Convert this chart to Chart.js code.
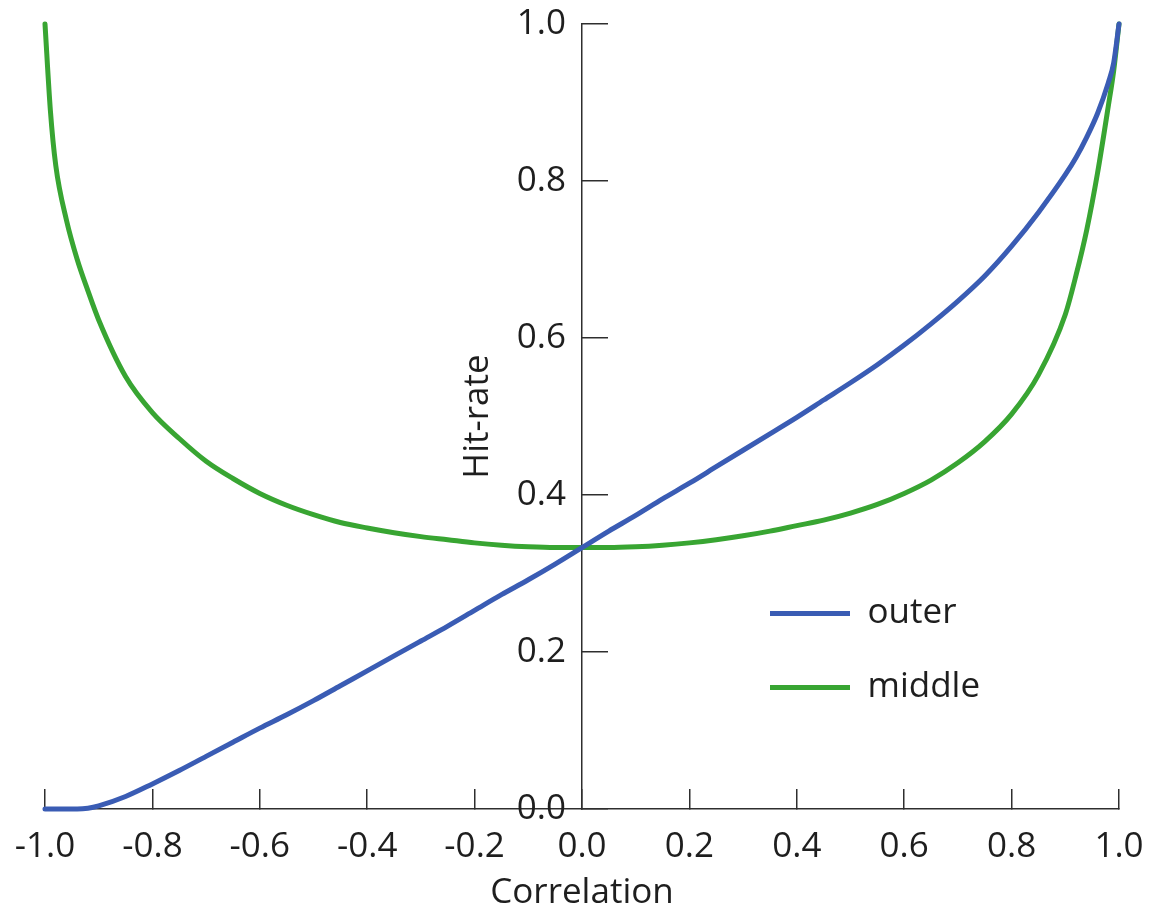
<!DOCTYPE html>
<html>
<head>
<meta charset="utf-8">
<script src="https://cdn.jsdelivr.net/npm/chart.js@4/dist/chart.umd.min.js"></script>
<style>
  html, body { margin: 0; padding: 0; background: #ffffff; }
  #wrap { width: 1149px; height: 914px; position: relative; }
</style>
</head>
<body>
<div id="wrap"><canvas id="c"></canvas></div>
<script>
// ---- data ----
const correlation = [-1.0, -0.99, -0.98, -0.96, -0.94, -0.92, -0.9, -0.85, -0.8, -0.75, -0.7, -0.65, -0.6, -0.55, -0.5, -0.45, -0.4, -0.35, -0.3, -0.25, -0.2, -0.15, -0.1, -0.05, 0.0, 0.05, 0.1, 0.15, 0.2, 0.25, 0.3, 0.35, 0.4, 0.45, 0.5, 0.55, 0.6, 0.65, 0.7, 0.75, 0.8, 0.85, 0.9, 0.92, 0.94, 0.96, 0.98, 0.99, 1.0];
const outerHitRate = [0.0, 0.0, 0.0, 0.0, 0.0, 0.001, 0.004, 0.016, 0.032, 0.049, 0.067, 0.085, 0.103, 0.120, 0.138, 0.157, 0.176, 0.195, 0.214, 0.233, 0.253, 0.273, 0.292, 0.312, 0.333, 0.354, 0.374, 0.395, 0.415, 0.436, 0.457, 0.478, 0.499, 0.521, 0.543, 0.566, 0.591, 0.618, 0.647, 0.679, 0.717, 0.760, 0.808, 0.830, 0.856, 0.886, 0.925, 0.950, 1.0];
const middleHitRate = [1.0, 0.89, 0.82, 0.75, 0.70, 0.66, 0.623, 0.551, 0.505, 0.472, 0.443, 0.421, 0.402, 0.387, 0.375, 0.365, 0.358, 0.352, 0.347, 0.343, 0.339, 0.336, 0.334, 0.333, 0.333, 0.333, 0.334, 0.336, 0.339, 0.343, 0.348, 0.354, 0.361, 0.368, 0.377, 0.388, 0.402, 0.419, 0.441, 0.468, 0.503, 0.553, 0.630, 0.68, 0.738, 0.81, 0.895, 0.94, 1.0];
const seriesNames = ['outer', 'middle'];
const xTickLabels = ['-1.0', '-0.8', '-0.6', '-0.4', '-0.2', '0.0', '0.2', '0.4', '0.6', '0.8', '1.0'];
const yTickLabels = ['0.0', '0.2', '0.4', '0.6', '0.8', '1.0'];
const xTitle = 'Correlation';
const yTitle = 'Hit-rate';

const toPoints = (xs, ys) => xs.map((x, i) => ({x: x, y: ys[i]}));

Chart.defaults.font.family = "'Open Sans', 'DejaVu Sans', sans-serif";
Chart.defaults.font.size = 35;
Chart.defaults.color = '#1e1e1e';

const AXIS = '#2e2e2e';
const Y_LABEL_GAP = 16;

const overlayPlugin = {
  id: 'overlay',
  beforeDraw(chart) {
    const lg = chart.legend;
    if (lg) {
      lg.left = 731;
      lg.top = 557;
      lg.right = chart.width;
      lg.bottom = chart.height;
    }
    // keep a gap between the centred y axis and its tick labels
    const items = chart.scales.y.getLabelItems(chart.chartArea);
    items.forEach((it) => {
      if (!it._shifted) {
        it.options.translation[0] -= Y_LABEL_GAP;
        it._shifted = true;
      }
    });
  },
  afterDraw(chart) {
    const {ctx, scales} = chart;
    const cx = scales.x.getPixelForValue(0) - 104;
    const cy = scales.y.getPixelForValue(0.5);
    ctx.save();
    ctx.translate(cx, cy);
    ctx.rotate(-Math.PI / 2);
    ctx.font = "35px 'Open Sans'";
    ctx.fillStyle = '#1e1e1e';
    ctx.textAlign = 'center';
    ctx.textBaseline = 'middle';
    ctx.fillText(yTitle, 0, 0);
    ctx.restore();
  }
};

new Chart(document.getElementById('c'), {
  type: 'line',
  data: {
    datasets: [
      {
        label: seriesNames[0],
        data: toPoints(correlation, outerHitRate),
        borderColor: '#3a5cb4',
        backgroundColor: '#3a5cb4',
        borderWidth: 5,
        borderCapStyle: 'round',
        borderJoinStyle: 'round',
        pointRadius: 0,
        cubicInterpolationMode: 'monotone',
        clip: false
      },
      {
        label: seriesNames[1],
        data: toPoints(correlation, middleHitRate),
        borderColor: '#38a532',
        backgroundColor: '#38a532',
        borderWidth: 5,
        borderCapStyle: 'round',
        borderJoinStyle: 'round',
        pointRadius: 0,
        cubicInterpolationMode: 'monotone',
        clip: false
      }
    ]
  },
  options: {
    responsive: true,
    maintainAspectRatio: false,
    animation: false,
    layout: { padding: { left: 45, right: 30, top: 24, bottom: 0 } },
    plugins: {
      tooltip: { enabled: false },
      legend: {
        position: 'chartArea',
        align: 'start',
        labels: {
          usePointStyle: true,
          pointStyle: 'line',
          pointStyleWidth: 80,
          padding: 39,
          color: '#1e1e1e',
          font: { size: 35 }
        }
      }
    },
    scales: {
      x: {
        type: 'linear',
        position: 'bottom',
        min: -1,
        max: 1,
        grid: { drawOnChartArea: false, drawTicks: true, tickLength: -20, color: AXIS, lineWidth: 1.5 },
        border: { display: true, color: AXIS, width: 1.5 },
        ticks: {
          stepSize: 0.2,
          padding: 37.5,
          maxRotation: 0,
          autoSkip: false,
          callback: (v, i) => xTickLabels[i]
        },
        title: { display: true, text: xTitle, padding: { top: 3.5, bottom: 0 }, font: { size: 35 } },
        afterFit: (s) => { s.paddingLeft = 0; s.paddingRight = 0; s.height = 105; }
      },
      y: {
        type: 'linear',
        position: { x: 0 },
        min: 0,
        max: 1,
        grid: { drawOnChartArea: false, drawTicks: true, tickLength: -27, color: AXIS, lineWidth: 1.5 },
        border: { display: true, color: AXIS, width: 1.5 },
        ticks: {
          stepSize: 0.2,
          padding: 0,
          autoSkip: false,
          callback: (v, i) => yTickLabels[i]
        },
        afterFit: (s) => { s.paddingTop = 0; s.paddingBottom = 0; }
      }
    }
  },
  plugins: [overlayPlugin]
});
</script>
</body>
</html>
